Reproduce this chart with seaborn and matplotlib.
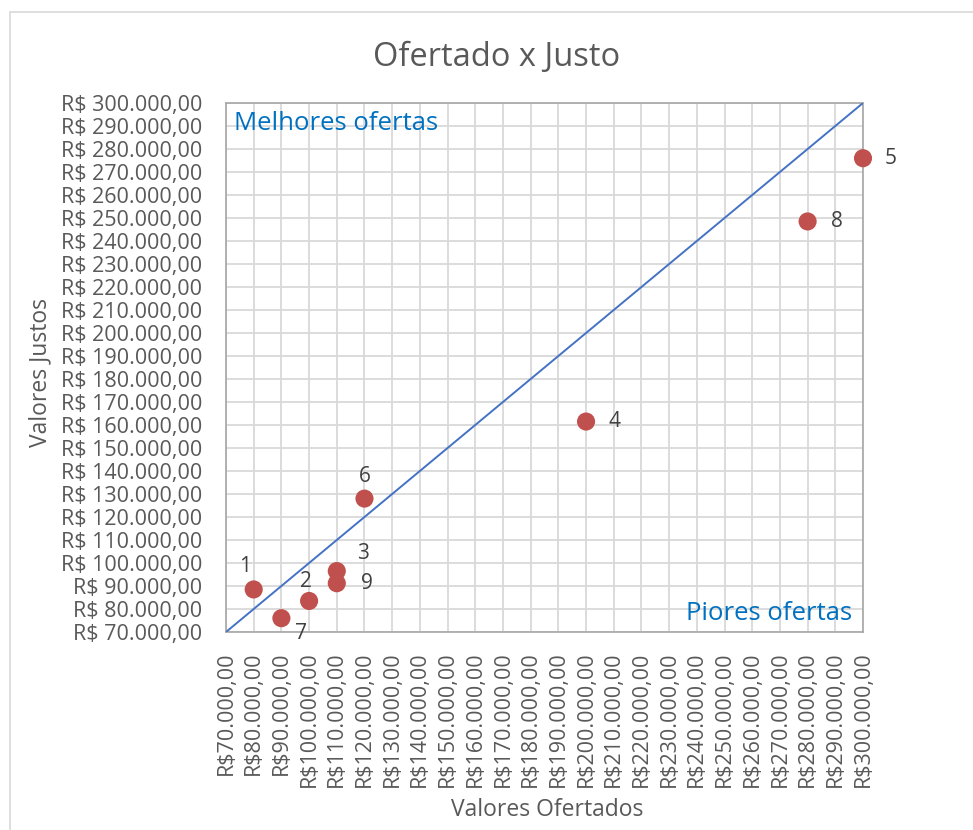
import matplotlib
matplotlib.use("Agg")
import matplotlib.pyplot as plt
import matplotlib.ticker as mticker
from matplotlib.patches import Rectangle
import seaborn as sns
import pandas as pd

# data
pontos = ['1', '2', '3', '4', '5', '6', '7', '8', '9']
ofertado = [80000, 100000, 110000, 200000, 300000, 120000, 90000, 280000, 110000]
justo = [88500, 83500, 96500, 161500, 276000, 128000, 76000, 248500, 91200]
diagonal = [70000, 300000]

df = pd.DataFrame({'ponto': pontos, 'ofertado': ofertado, 'justo': justo})

sns.set_style('white')
plt.rcParams['font.family'] = ['Open Sans', 'DejaVu Sans']

fig = plt.figure(figsize=(9.73, 8.3), dpi=100)
ax = fig.add_axes([226 / 973, 1 - 632 / 830, (863 - 226) / 973, (632 - 103) / 830])

# outer chart border
fig.patches.append(Rectangle((10 / 973, -0.01), 1.0, 1 - 12 / 830 + 0.01,
                             transform=fig.transFigure, fill=False,
                             edgecolor='#D9D9D9', linewidth=1.2))

sns.lineplot(x=diagonal, y=diagonal, color='#4472C4', linewidth=1.4, ax=ax, zorder=3)
sns.scatterplot(x='ofertado', y='justo', data=df, color='#C0504D', s=170,
                edgecolor='none', ax=ax, zorder=4, clip_on=False)

# data labels, nudged like Excel placed them
offsets = {'1': (-9, 23), '2': (-3, 19), '3': (26, 18), '4': (28, 0), '5': (28, 0),
           '6': (0, 22), '7': (20, -15), '8': (29, 0), '9': (30, 0)}
for p, x, y in zip(pontos, ofertado, justo):
    ax.annotate(p, (x, y), xytext=offsets[p], textcoords='offset pixels',
                ha='center', va='center', fontsize=15, color='#404040', zorder=5)

ax.set_xlim(70000, 300000)
ax.set_ylim(70000, 300000)
ax.xaxis.set_major_locator(mticker.MultipleLocator(10000))
ax.yaxis.set_major_locator(mticker.MultipleLocator(10000))


def brl(v, sep=''):
    s = f"{v:,.2f}".replace(',', 'X').replace('.', ',').replace('X', '.')
    return f"R${sep}{s}"


ax.xaxis.set_major_formatter(mticker.FuncFormatter(lambda v, _: brl(v)))
ax.yaxis.set_major_formatter(mticker.FuncFormatter(lambda v, _: brl(v, ' ')))
ax.tick_params(axis='x', labelrotation=90, labelsize=15.5, labelcolor='#595959', length=0, pad=14)
ax.tick_params(axis='y', labelsize=15.5, labelcolor='#595959', length=0, pad=17)
ax.set_xlabel('')
ax.set_ylabel('')

ax.grid(True, color='#D9D9D9', linewidth=1.3)
ax.set_axisbelow(True)
for sp in ax.spines.values():
    sp.set_visible(True)
    sp.set_color('#A6A6A6')
    sp.set_linewidth(1.2)

ax.text(0.012, 0.985, 'Melhores ofertas', transform=ax.transAxes, ha='left', va='top',
        fontsize=18.5, color='#0070C0')
ax.text(0.983, 0.012, 'Piores ofertas', transform=ax.transAxes, ha='right', va='bottom',
        fontsize=18.5, color='#0070C0')

fig.text(547 / 973, 1 - 810 / 830, 'Valores Ofertados', ha='center', va='center',
         fontsize=16.5, color='#595959')
fig.text(40 / 973, 1 - 372 / 830, 'Valores Justos', ha='center', va='center',
         rotation=90, fontsize=16.5, color='#595959')
fig.text(497 / 973, 1 - 57 / 830, 'Ofertado x Justo', ha='center', va='center',
         fontsize=23.5, color='#595959')

fig.savefig('out.png', dpi=100)
